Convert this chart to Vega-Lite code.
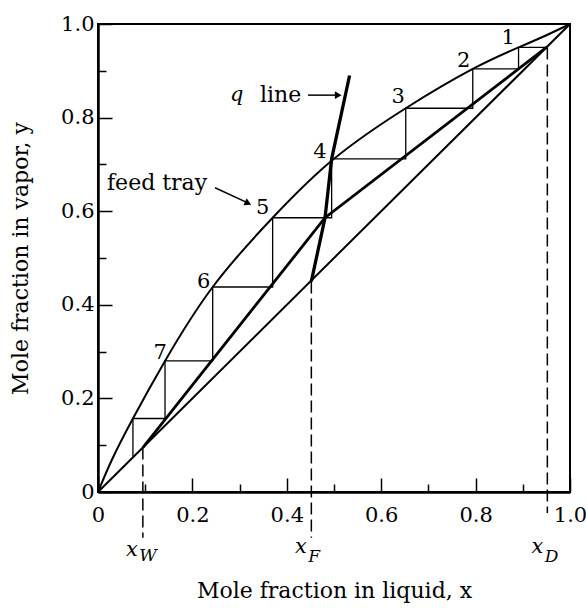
{
  "$schema": "https://vega.github.io/schema/vega-lite/v6.json",
  "width": 472,
  "height": 468,
  "autosize": {"type": "none"},
  "padding": {"left": 98, "top": 24, "right": 16, "bottom": 117},
  "background": "white",
  "config": {
    "view": {"stroke": "black", "strokeWidth": 2},
    "axis": {
      "grid": false,
      "domainColor": "black",
      "domainWidth": 2.5,
      "tickColor": "black",
      "tickWidth": 1.5,
      "labelFont": "DejaVu Serif",
      "labelFontSize": 21,
      "labelColor": "black",
      "labelOverlap": false,
      "labelBound": false,
      "labelFlush": false,
      "titleFont": "DejaVu Serif",
      "titleFontSize": 22,
      "titleFontWeight": "normal",
      "titleColor": "black"
    }
  },
  "datasets": {
    "diag": [{"x": 0, "y": 0}, {"x": 1, "y": 1}],
    "curve": [
      {"x": 0, "y": 0}, {"x": 0.03, "y": 0.07}, {"x": 0.074, "y": 0.157},
      {"x": 0.142, "y": 0.28}, {"x": 0.243, "y": 0.438}, {"x": 0.37, "y": 0.586},
      {"x": 0.5, "y": 0.712}, {"x": 0.652, "y": 0.82}, {"x": 0.794, "y": 0.904},
      {"x": 0.891, "y": 0.95}, {"x": 0.95, "y": 0.976}, {"x": 1, "y": 1}
    ],
    "oper": [{"x": 0.95, "y": 0.95}, {"x": 0.481, "y": 0.586}, {"x": 0.095, "y": 0.095}],
    "qline": [{"x": 0.452, "y": 0.45}, {"x": 0.481, "y": 0.586}, {"x": 0.495, "y": 0.712}, {"x": 0.533, "y": 0.89}],
    "steps": [
      {"o": 1, "x": 0.95, "y": 0.95}, {"o": 2, "x": 0.891, "y": 0.95},
      {"o": 3, "x": 0.891, "y": 0.904}, {"o": 4, "x": 0.794, "y": 0.904},
      {"o": 5, "x": 0.794, "y": 0.82}, {"o": 6, "x": 0.652, "y": 0.82},
      {"o": 7, "x": 0.652, "y": 0.712}, {"o": 8, "x": 0.495, "y": 0.712},
      {"o": 9, "x": 0.495, "y": 0.586}, {"o": 10, "x": 0.37, "y": 0.586},
      {"o": 11, "x": 0.37, "y": 0.438}, {"o": 12, "x": 0.243, "y": 0.438},
      {"o": 13, "x": 0.243, "y": 0.28}, {"o": 14, "x": 0.142, "y": 0.28},
      {"o": 15, "x": 0.142, "y": 0.157}, {"o": 16, "x": 0.074, "y": 0.157},
      {"o": 17, "x": 0.074, "y": 0.074}
    ],
    "dash": [
      {"x": 0.095, "y": 0.095, "y2": -0.098},
      {"x": 0.452, "y": 0.45, "y2": -0.098},
      {"x": 0.952, "y": 0.95, "y2": -0.045}
    ],
    "trays": [
      {"x": 0.869, "y": 0.971, "t": "1"}, {"x": 0.775, "y": 0.92, "t": "2"},
      {"x": 0.636, "y": 0.845, "t": "3"}, {"x": 0.47, "y": 0.727, "t": "4"},
      {"x": 0.349, "y": 0.607, "t": "5"}, {"x": 0.224, "y": 0.449, "t": "6"},
      {"x": 0.132, "y": 0.298, "t": "7"}
    ],
    "notes": [
      {"x": 0.019, "y": 0.66, "t": "feed tray"},
      {"x": 0.343, "y": 0.848, "t": "line"}
    ],
    "ital": [
      {"x": 0.294, "y": 0.848, "t": "q"},
      {"x": 0.072, "y": -0.124, "t": "x"},
      {"x": 0.43, "y": -0.118, "t": "x"},
      {"x": 0.931, "y": -0.118, "t": "x"}
    ],
    "subs": [
      {"x": 0.106, "y": -0.137, "t": "W"},
      {"x": 0.458, "y": -0.139, "t": "F"},
      {"x": 0.961, "y": -0.139, "t": "D"}
    ],
    "arrows": [
      {"x": 0.445, "y": 0.848, "x2": 0.507, "y2": 0.848},
      {"x": 0.248, "y": 0.65, "x2": 0.315, "y2": 0.619}
    ],
    "headq": [{"x": 0.509, "y": 0.848}],
    "headf": [{"x": 0.318, "y": 0.617}]
  },
  "encoding": {
    "x": {
      "field": "x", "type": "quantitative",
      "scale": {"domain": [0, 1], "nice": false, "zero": false},
      "axis": {
        "title": "Mole fraction in liquid, x",
        "values": [0, 0.1, 0.2, 0.3, 0.4, 0.5, 0.6, 0.7, 0.8, 0.9, 1.0],
        "labelExpr": "round(datum.value*10) % 2 == 0 ? (datum.value == 0 ? '0' : format(datum.value, '.1f')) : ''",
        "tickSize": {"condition": {"test": "round(datum.value*10) % 2 == 0", "value": -14}, "value": -8},
        "labelPadding": 26,
        "titleX": 236, "titleY": 98, "titleAlign": "center", "titleBaseline": "middle"
      }
    },
    "y": {
      "field": "y", "type": "quantitative",
      "scale": {"domain": [0, 1], "nice": false, "zero": false},
      "axis": {
        "title": "Mole fraction in vapor, y",
        "values": [0, 0.1, 0.2, 0.3, 0.4, 0.5, 0.6, 0.7, 0.8, 0.9, 1.0],
        "labelExpr": "round(datum.value*10) % 2 == 0 ? (datum.value == 0 ? '0' : format(datum.value, '.1f')) : ''",
        "tickSize": {"condition": {"test": "round(datum.value*10) % 2 == 0", "value": -14}, "value": -8},
        "labelPadding": 18,
        "titleX": -78, "titleY": 234, "titleAlign": "center", "titleBaseline": "middle", "titleAngle": -90
      }
    }
  },
  "layer": [
    {"data": {"name": "diag"}, "mark": {"type": "line", "color": "black", "strokeWidth": 2}},
    {"data": {"name": "curve"}, "mark": {"type": "line", "color": "black", "strokeWidth": 2, "interpolate": "natural"}},
    {"data": {"name": "oper"}, "mark": {"type": "line", "color": "black", "strokeWidth": 2.8}},
    {"data": {"name": "steps"}, "mark": {"type": "line", "color": "black", "strokeWidth": 1.3}, "encoding": {"order": {"field": "o", "type": "quantitative"}}},
    {"data": {"name": "qline"}, "mark": {"type": "line", "color": "black", "strokeWidth": 3.3}},
    {"data": {"name": "dash"}, "mark": {"type": "rule", "color": "black", "strokeWidth": 1.5, "strokeDash": [12, 5]}, "encoding": {"y2": {"field": "y2"}}},
    {"data": {"name": "trays"}, "mark": {"type": "text", "font": "DejaVu Serif", "fontSize": 21, "color": "black", "align": "center", "baseline": "middle"}, "encoding": {"text": {"field": "t"}}},
    {"data": {"name": "notes"}, "mark": {"type": "text", "font": "DejaVu Serif", "fontSize": 22, "color": "black", "align": "left", "baseline": "middle"}, "encoding": {"text": {"field": "t"}}},
    {"data": {"name": "ital"}, "mark": {"type": "text", "font": "DejaVu Serif", "fontStyle": "italic", "fontSize": 21, "color": "black", "align": "center", "baseline": "middle"}, "encoding": {"text": {"field": "t"}}},
    {"data": {"name": "subs"}, "mark": {"type": "text", "font": "DejaVu Serif", "fontStyle": "italic", "fontSize": 17, "color": "black", "align": "center", "baseline": "middle"}, "encoding": {"text": {"field": "t"}}},
    {"data": {"name": "arrows"}, "mark": {"type": "rule", "color": "black", "strokeWidth": 1.5}, "encoding": {"x2": {"field": "x2"}, "y2": {"field": "y2"}}},
    {"data": {"name": "headq"}, "mark": {"type": "point", "shape": "triangle-right", "filled": true, "color": "black", "opacity": 1, "size": 60, "angle": 0}},
    {"data": {"name": "headf"}, "mark": {"type": "point", "shape": "triangle-right", "filled": true, "color": "black", "opacity": 1, "size": 60, "angle": 25}}
  ]
}
